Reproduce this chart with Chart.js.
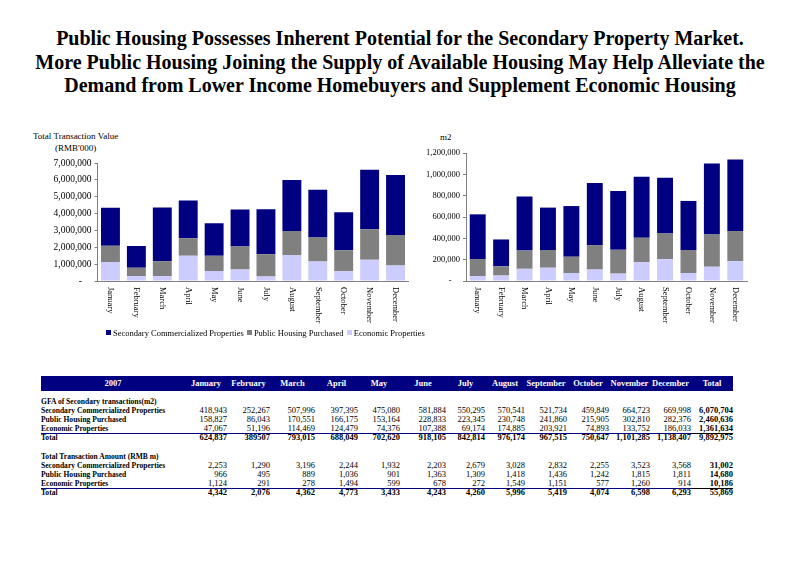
<!DOCTYPE html>
<html>
<head>
<meta charset="utf-8">
<script src="https://cdn.jsdelivr.net/npm/chart.js@4"></script>
<style>
  body { margin: 0; width: 800px; height: 565px; background: #fff; position: relative; overflow: hidden;
         font-family: 'Liberation Serif', 'Times New Roman', serif; color: #000; }
  #title { position: absolute; left: 0; top: 27px; width: 800px; text-align: center;
           font-weight: bold; font-size: 20px; line-height: 23.5px; }
  #title span { display: inline-block; white-space: nowrap; transform-origin: center; }
  canvas { position: absolute; }
  .lbl { position: absolute; font-size: 9px; white-space: nowrap; }
  #legend { position: absolute; left: 105px; top: 328px; font-size: 8.5px; white-space: nowrap; }
  #legend i { display: inline-block; width: 5px; height: 5px; margin: 0 2px 0 1px; vertical-align: 1px; }
  #table { position: absolute; left: 41px; top: 376px; width: 692px; font-size: 8.5px; }
  .row { position: absolute; left: 0; width: 692px; line-height: 9px; }
  .cell { position: absolute; top: 0; white-space: nowrap; }
  .name { transform: scaleX(0.89); transform-origin: left center; }
</style>
</head>
<body>
<div id="title">
  <span>Public Housing Possesses Inherent Potential for the Secondary Property Market.</span><br>
  <span>More Public Housing Joining the Supply of Available Housing May Help Alleviate the</span><br>
  <span>Demand from Lower Income Homebuyers and Supplement Economic Housing</span>
</div>

<div class="lbl" style="left:33px; top:131px;">Total Transaction Value</div>
<div class="lbl" style="left:55px; top:143px;">(RMB'000)</div>
<div class="lbl" style="left:440px; top:132px;">m2</div>

<canvas id="valueChart" width="420" height="190" style="left:0; top:150px;"></canvas>
<canvas id="gfaChart" width="400" height="200" style="left:380px; top:140px;"></canvas>

<div id="legend"></div>
<div id="table"></div>

<script>
const months = ['January', 'February', 'March', 'April', 'May', 'June', 'July',
  'August', 'September', 'October', 'November', 'December'];
const seriesNames = ['Secondary Commercialized Properties', 'Public Housing Purchased', 'Economic Properties'];
const seriesColors = ['#000080', '#808080', '#ccccff'];

// GFA of secondary transactions (m2)
const gfaSecondary = [418943, 252267, 507996, 397395, 475080, 581884, 550295, 570541, 521734, 459849, 664723, 669998];
const gfaPublic = [158827, 86043, 170551, 166175, 153164, 228833, 223345, 230748, 241860, 215905, 302810, 282376];
const gfaEconomic = [47067, 51196, 114469, 124479, 74376, 107388, 69174, 174885, 203921, 74893, 133752, 186033];
const gfaTotal = ['624,837', '389507', '793,015', '688,049', '702,620', '918,105', '842,814', '976,174',
  '967,515', '750,647', '1,101,285', '1,138,407'];
const gfaYearTotals = ['6,070,704', '2,460,636', '1,361,634', '9,892,975'];

// Total transaction amount (RMB m)
const amtSecondary = [2253, 1290, 3196, 2244, 1932, 2203, 2679, 3028, 2832, 2255, 3523, 3568];
const amtPublic = [966, 495, 889, 1036, 901, 1363, 1309, 1418, 1436, 1242, 1815, 1811];
const amtEconomic = [1124, 291, 278, 1494, 599, 678, 272, 1549, 1151, 577, 1260, 914];
const amtTotal = [4342, 2076, 4362, 4773, 3433, 4243, 4260, 5996, 5419, 4074, 6598, 6293];
const amtYearTotals = ['31,002', '14,680', '10,186', '55,869'];

const valueTicks = { max: 7000000, step: 1000000 };
const gfaTicks = { max: 1200000, step: 200000 };

Chart.defaults.font.family = "'Liberation Serif', 'Times New Roman', serif";
Chart.defaults.color = '#000';

// title lines are squeezed like the original
const titleSpans = document.querySelectorAll('#title span');
const squeeze = 688 / titleSpans[0].offsetWidth;
titleSpans.forEach(s => { s.style.transform = 'scaleX(' + squeeze + ')'; });

// month labels read top to bottom under each bar
const monthLabels = {
  id: 'monthLabels',
  afterDraw(chart, args, opts) {
    const ctx = chart.ctx;
    const xs = chart.scales.x;
    ctx.save();
    ctx.font = opts.size + "px 'Liberation Serif'";
    ctx.fillStyle = '#000';
    ctx.textAlign = 'left';
    ctx.textBaseline = 'middle';
    xs.ticks.forEach((t, i) => {
      ctx.save();
      ctx.translate(xs.getPixelForTick(i), chart.chartArea.bottom + 6);
      ctx.rotate(Math.PI / 2);
      ctx.fillText(months[i], 0, 0);
      ctx.restore();
    });
    ctx.restore();
  }
};

function makeChart(id, data, ticks, yWidth, padRight, fontSize, barPct) {
  const sets = [data[2], data[1], data[0]];
  const cols = [seriesColors[2], seriesColors[1], seriesColors[0]];
  const names = [seriesNames[2], seriesNames[1], seriesNames[0]];
  return new Chart(document.getElementById(id), {
    type: 'bar',
    data: {
      labels: months,
      datasets: sets.map((d, i) => ({
        label: names[i],
        data: d,
        backgroundColor: cols[i],
        borderWidth: 0,
        categoryPercentage: 1,
        barPercentage: barPct
      }))
    },
    options: {
      responsive: false,
      animation: false,
      layout: { padding: { top: 13, right: padRight, left: 0, bottom: 0 } },
      plugins: { legend: { display: false }, tooltip: { enabled: false }, monthLabels: { size: 8.5 } },
      scales: {
        x: {
          stacked: true,
          grid: { display: false },
          border: { color: '#808080', width: 1 },
          ticks: { display: false },
          afterFit: s => { s.height = 59; }
        },
        y: {
          stacked: true,
          min: 0,
          max: ticks.max,
          grid: { drawOnChartArea: false, drawTicks: true, tickLength: 3, color: '#808080' },
          border: { color: '#808080', width: 1 },
          ticks: {
            stepSize: ticks.step,
            padding: 3,
            font: { size: fontSize },
            callback: v => v === 0 ? '-\u2007\u2007' : v.toLocaleString('en-US')
          },
          afterFit: s => { s.width = yWidth; }
        }
      }
    },
    plugins: [monthLabels]
  });
}

makeChart('valueChart',
  [amtSecondary.map(v => v * 1000), amtPublic.map(v => v * 1000), amtEconomic.map(v => v * 1000)],
  valueTicks, 97.5, 11.5, 9.5, 0.73);
makeChart('gfaChart', [gfaSecondary, gfaPublic, gfaEconomic], gfaTicks, 86, 33, 8.5, 0.68);

// legend
document.getElementById('legend').innerHTML = seriesNames.map((n, i) =>
  '<i style="background:' + seriesColors[i] + '"></i>' + n).join(' ');

// table
const colRight = [186, 229, 274, 317, 359, 405, 444, 484, 526, 568, 609, 650, 692];
const colWidth = [42, 43, 45, 43, 42, 46, 39, 40, 42, 42, 41, 41, 42];
const fmt = v => typeof v === 'string' ? v : v.toLocaleString('en-US');
const table = document.getElementById('table');

function addRow(top, h, opts) {
  const r = document.createElement('div');
  r.className = 'row';
  r.style.top = top + 'px';
  r.style.height = h + 'px';
  r.style.lineHeight = h + 'px';
  if (opts.bg) { r.style.background = opts.bg; r.style.color = '#fff'; }
  if (opts.bold) r.style.fontWeight = 'bold';
  if (opts.label !== undefined) {
    const c = document.createElement('div');
    c.className = 'cell';
    c.style.left = '0px';
    c.style.fontWeight = 'bold';
    if (opts.center) { c.style.width = '144px'; c.style.textAlign = 'center'; }
    else c.classList.add('name');
    c.textContent = opts.label;
    r.appendChild(c);
  }
  (opts.values || []).forEach((v, i) => {
    const c = document.createElement('div');
    c.className = 'cell';
    c.style.left = (colRight[i] - colWidth[i]) + 'px';
    c.style.width = colWidth[i] + 'px';
    c.style.textAlign = opts.center ? 'center' : 'right';
    if (i === 12) c.style.fontWeight = 'bold';
    c.textContent = fmt(v);
    r.appendChild(c);
  });
  table.appendChild(r);
  return r;
}

function addLine(top, left, width, color) {
  const l = document.createElement('div');
  l.style.cssText = 'position:absolute;height:1.5px;top:' + top + 'px;left:' + left + 'px;width:' + width + 'px;background:' + color;
  table.appendChild(l);
}

addRow(0, 15, { bg: '#000080', bold: true, center: true, label: '2007', values: months.concat(['Total']) });

function section(top, heading, sec, pub, eco, tot, yearTot) {
  addRow(top, 10, { label: heading });
  addRow(top + 10, 9, { label: seriesNames[0], values: sec.concat([yearTot[0]]) });
  addRow(top + 19, 9, { label: seriesNames[1], values: pub.concat([yearTot[1]]) });
  addRow(top + 28, 9, { label: seriesNames[2], values: eco.concat([yearTot[2]]) });
  addLine(top + 36.5, 0, 692, '#000080');
  addLine(top + 36.5, 650, 42, '#000');
  addRow(top + 37, 9, { bold: true, label: 'Total', values: tot.concat([yearTot[3]]) });
}

section(20, 'GFA of Secondary transactions(m2)', gfaSecondary, gfaPublic, gfaEconomic, gfaTotal, gfaYearTotals);
section(75, 'Total Transaction Amount (RMB m)', amtSecondary, amtPublic, amtEconomic, amtTotal, amtYearTotals);
</script>
</body>
</html>
